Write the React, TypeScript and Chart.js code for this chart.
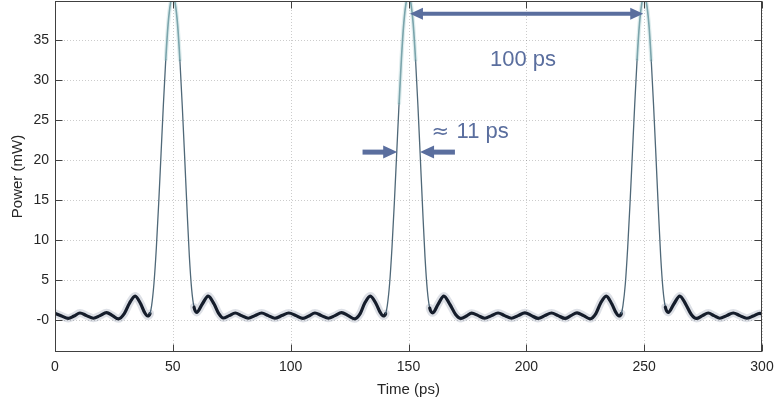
import React, { useEffect, useRef } from "react";
import { Chart, registerables } from "chart.js";

Chart.register(...registerables);

// ---- data ----
const timePs = [
  0, 2.8, 5.6, 8.1, 10.6, 13.4, 16.3, 19.1, 21.9, 24.4, 26.9, 29.4, 31.6, 34.0, 36.4, 38.0, 39.3,
  40.3, 41, 42, 43, 44, 45, 46, 47, 48, 49, 50, 51, 52, 53, 54, 55, 56, 57, 58, 59,
  60.1, 62.5, 65.0, 67.5, 69.5, 71.4, 73.9, 76.5, 79.2, 82.0, 84.8, 87.7, 90.5, 93.3, 96.2, 99.2,
  102.3, 105.2, 107.7, 110.3, 113.1, 116.0, 118.8, 121.6, 124.4, 127.1, 129.5, 131.4, 133.8, 136.3, 138.0, 139.3,
  140.3, 141, 142, 143, 144, 145, 146, 147, 148, 149, 150, 151, 152, 153, 154, 155, 156, 157, 158, 159,
  160.3, 162.6, 165.0, 167.5, 170.0, 172.3, 174.6, 176.8, 179.6, 182.4, 185.2, 188.0, 190.8, 193.7, 196.5, 199.4,
  202.2, 205.0, 207.8, 210.7, 213.5, 216.4, 218.9, 221.5, 224.3, 227.1, 229.5, 231.5, 233.9, 236.3, 238.0, 239.3,
  240.3, 241, 242, 243, 244, 245, 246, 247, 248, 249, 250, 251, 252, 253, 254, 255, 256, 257, 258, 259,
  260.2, 262.6, 265.1, 267.6, 270.0, 272.2, 274.7, 277.2, 279.6, 282.1, 285.0, 287.8, 290.6, 293.5, 296.3, 299.1, 300,
];

const powerMw = [
  0.85, 0.5, 0.2, 0.5, 0.88, 0.55, 0.22, 0.55, 0.92, 0.55, 0.15, 0.8, 2.1, 3.0, 2.0, 0.95, 0.5,
  0.8, 1.8, 4.6, 9.0, 14.6, 20.8, 27.0, 32.6, 37.0, 39.6, 40.6, 39.6, 37.0, 32.5, 26.8, 20.5, 14.0, 8.0, 3.8, 1.6,
  0.95, 2.0, 3.0, 2.0, 0.8, 0.25, 0.55, 0.88, 0.55, 0.22, 0.55, 0.88, 0.55, 0.22, 0.55, 0.88,
  0.55, 0.2, 0.5, 0.88, 0.55, 0.22, 0.55, 0.92, 0.55, 0.15, 0.8, 2.1, 3.0, 2.0, 0.95, 0.5,
  0.8, 1.8, 4.6, 9.1, 14.7, 20.9, 27.1, 32.7, 37.1, 39.7, 40.6, 39.6, 37.0, 32.5, 26.8, 20.4, 13.9, 7.9, 3.7, 1.5,
  0.9, 2.0, 3.0, 2.0, 0.7, 0.2, 0.5, 0.85, 0.55, 0.22, 0.55, 0.88, 0.55, 0.22, 0.55, 0.9,
  0.55, 0.2, 0.55, 0.88, 0.55, 0.2, 0.55, 0.9, 0.55, 0.15, 0.8, 2.1, 3.0, 2.0, 0.95, 0.5,
  0.8, 1.8, 4.5, 9.0, 14.6, 20.8, 27.0, 32.6, 37.0, 39.6, 40.6, 39.6, 37.0, 32.5, 26.8, 20.5, 14.0, 8.0, 3.8, 1.6,
  0.95, 2.0, 3.0, 2.0, 0.7, 0.2, 0.55, 0.88, 0.55, 0.22, 0.55, 0.88, 0.55, 0.22, 0.5, 0.82, 0.8,
];

const xTicks = [0, 50, 100, 150, 200, 250, 300];
const xTickLabels = ["0", "50", "100", "150", "200", "250", "300"];
const yTicks = [0, 5, 10, 15, 20, 25, 30, 35];
const yTickLabels = ["-0", "5", "10", "15", "20", "25", "30", "35"];
const xRange = [0, 300];
const yRange = [-4, 39.9];
const xTitle = "Time (ps)";
const yTitle = "Power (mW)";

// annotation content (data coordinates)
const spacingArrow = { from: 150.6, to: 249.6, at: 38.3 };
const spacingText = { text: "100 ps", x: 198.6, y: 32.5 };
const widthArrows = { leftFrom: 130.5, leftTo: 145.2, rightFrom: 169.7, rightTo: 154.9, at: 21.0 };
const widthSymbol = { text: "\u2248", x: 159.8, y: 23.5 };
const widthText = { text: "11 ps", x: 170.4, y: 23.5 };

const FONT = "'Liberation Sans', Arial, Helvetica, sans-serif";
const TEXT = "#262626";
const ANNOT = "#5a6e9e";

function arrowHead(ctx: CanvasRenderingContext2D, tipX: number, y: number, dir: number, len: number, half: number) {
  ctx.beginPath();
  ctx.moveTo(tipX, y);
  ctx.lineTo(tipX - dir * len, y - half);
  ctx.lineTo(tipX - dir * len, y + half);
  ctx.closePath();
  ctx.fill();
}

const framePlugin = {
  id: "frame",
  beforeDatasetsDraw(chart: any) {
    const { ctx, chartArea, scales } = chart;
    const { left, right, top, bottom } = chartArea;
    const x = scales.x, y = scales.y;
    ctx.save();
    ctx.strokeStyle = "rgba(0,0,0,0.2)";
    ctx.lineWidth = 1;
    ctx.setLineDash([1, 2]);
    xTicks.forEach((v) => {
      const px = Math.round(x.getPixelForValue(v)) + 0.5;
      ctx.beginPath();
      ctx.moveTo(px, top);
      ctx.lineTo(px, bottom);
      ctx.stroke();
    });
    yTicks.forEach((v) => {
      const py = Math.round(y.getPixelForValue(v)) + 0.5;
      ctx.beginPath();
      ctx.moveTo(left, py);
      ctx.lineTo(right, py);
      ctx.stroke();
    });
    ctx.restore();
  },
  afterDatasetsDraw(chart: any) {
    const { ctx, chartArea, scales } = chart;
    const x = scales.x, y = scales.y;
    const L = Math.round(chartArea.left) + 0.5;
    const R = Math.round(chartArea.right) - 0.5;
    const T = Math.round(chartArea.top) + 0.5;
    const B = Math.round(chartArea.bottom) - 0.5;
    ctx.save();
    ctx.strokeStyle = "#404040";
    ctx.lineWidth = 1;
    ctx.strokeRect(L, T, R - L, B - T);
    const tl = 7;
    ctx.beginPath();
    xTicks.forEach((v) => {
      const px = Math.round(x.getPixelForValue(v)) + 0.5;
      ctx.moveTo(px, B);
      ctx.lineTo(px, B - tl);
      ctx.moveTo(px, T);
      ctx.lineTo(px, T + tl);
    });
    yTicks.forEach((v) => {
      const py = Math.round(y.getPixelForValue(v)) + 0.5;
      ctx.moveTo(L, py);
      ctx.lineTo(L + tl, py);
      ctx.moveTo(R, py);
      ctx.lineTo(R - tl, py);
    });
    ctx.stroke();

    // annotations
    ctx.fillStyle = ANNOT;
    ctx.strokeStyle = ANNOT;
    ctx.lineCap = "butt";
    {
      const x0 = x.getPixelForValue(spacingArrow.from);
      const x1 = x.getPixelForValue(spacingArrow.to);
      const py = y.getPixelForValue(spacingArrow.at);
      const len = 13, half = 6;
      ctx.lineWidth = 4;
      ctx.beginPath();
      ctx.moveTo(x0 + len - 1, py);
      ctx.lineTo(x1 - len + 1, py);
      ctx.stroke();
      arrowHead(ctx, x0, py, -1, len, half);
      arrowHead(ctx, x1, py, 1, len, half);
    }
    {
      const py = y.getPixelForValue(widthArrows.at);
      const len = 14, half = 6.5;
      ctx.lineWidth = 5;
      const a0 = x.getPixelForValue(widthArrows.leftFrom);
      const a1 = x.getPixelForValue(widthArrows.leftTo);
      ctx.beginPath();
      ctx.moveTo(a0, py);
      ctx.lineTo(a1 - len + 1, py);
      ctx.stroke();
      arrowHead(ctx, a1, py, 1, len, half);
      const b0 = x.getPixelForValue(widthArrows.rightFrom);
      const b1 = x.getPixelForValue(widthArrows.rightTo);
      ctx.beginPath();
      ctx.moveTo(b0, py);
      ctx.lineTo(b1 + len - 1, py);
      ctx.stroke();
      arrowHead(ctx, b1, py, -1, len, half);
    }
    ctx.textBaseline = "middle";
    ctx.textAlign = "center";
    ctx.font = `22px ${FONT}`;
    ctx.fillText(spacingText.text, x.getPixelForValue(spacingText.x), y.getPixelForValue(spacingText.y));
    ctx.textAlign = "left";
    ctx.fillText(widthText.text, x.getPixelForValue(widthText.x), y.getPixelForValue(widthText.y));
    ctx.font = `21px 'DejaVu Sans', sans-serif`;
    ctx.fillText(widthSymbol.text, x.getPixelForValue(widthSymbol.x), y.getPixelForValue(widthSymbol.y));
    ctx.restore();
  },
};

function segKind(c: any) {
  const a = c.p0.parsed.y, b = c.p1.parsed.y;
  const dx = Math.abs(c.p1.parsed.x - c.p0.parsed.x) || 1;
  const lo = Math.min(a, b);
  if (lo > 27) return "top";
  if (Math.abs(b - a) / dx > 1.2) return "edge";
  return "ripple";
}

export default function App() {
  const canvasRef = useRef<HTMLCanvasElement | null>(null);

  useEffect(() => {
    const canvas = canvasRef.current;
    if (!canvas) return;
    const points = timePs.map((t, i) => ({ x: t, y: powerMw[i] }));
    const chart = new Chart(canvas, {
      type: "line",
      data: {
        datasets: [
          {
            data: points,
            pointRadius: 0,
            cubicInterpolationMode: "monotone",
            borderColor: "rgba(30,45,80,0.16)",
            borderWidth: 8,
            borderJoinStyle: "round",
            borderCapStyle: "round",
            segment: {
              borderColor: (c: any) => {
                const k = segKind(c);
                if (k === "ripple") return "rgba(30,45,85,0.15)";
                if (k === "top") return "rgba(150,195,200,0.3)";
                return "rgba(0,0,0,0)";
              },
              borderWidth: (c: any) => {
                const k = segKind(c);
                if (k === "ripple") return 8;
                if (k === "top") return 4;
                return 1;
              },
            },
          } as any,
          {
            data: points,
            pointRadius: 0,
            cubicInterpolationMode: "monotone",
            borderColor: "#141a24",
            borderWidth: 3,
            borderJoinStyle: "round",
            borderCapStyle: "round",
            segment: {
              borderColor: (c: any) => {
                const k = segKind(c);
                if (k === "ripple") return "#141a24";
                if (k === "top") return "rgba(95,140,150,0.9)";
                return "#4f6878";
              },
              borderWidth: (c: any) => {
                const k = segKind(c);
                if (k === "ripple") return 3.2;
                if (k === "top") return 1.6;
                return 1.3;
              },
            },
          } as any,
        ],
      },
      options: {
        responsive: false,
        animation: false,
        devicePixelRatio: 1,
        layout: { padding: { left: 0, right: 12, top: 1, bottom: 0 } },
        plugins: { legend: { display: false }, tooltip: { enabled: false } },
        scales: {
          x: {
            type: "linear",
            min: xRange[0],
            max: xRange[1],
            grid: { display: false, drawTicks: false },
            border: { display: false },
            afterBuildTicks: (s: any) => {
              s.ticks = xTicks.map((v) => ({ value: v }));
            },
            afterFit: (s: any) => {
              s.height = 53;
              s.paddingLeft = 0;
              s.paddingRight = 0;
              s.paddingTop = 0;
              s.paddingBottom = 0;
            },
            ticks: {
              autoSkip: false,
              maxRotation: 0,
              padding: 7,
              color: TEXT,
              font: { family: FONT, size: 14 },
              callback: (_v: any, i: number) => xTickLabels[i],
            },
            title: {
              display: true,
              text: xTitle,
              color: TEXT,
              font: { family: FONT, size: 15 },
              padding: { top: 0, bottom: 6 },
            },
          },
          y: {
            type: "linear",
            min: yRange[0],
            max: yRange[1],
            grid: { display: false, drawTicks: false },
            border: { display: false },
            afterBuildTicks: (s: any) => {
              s.ticks = yTicks.map((v) => ({ value: v }));
            },
            afterFit: (s: any) => {
              s.width = 55;
              s.paddingLeft = 0;
              s.paddingRight = 0;
              s.paddingTop = 0;
              s.paddingBottom = 0;
            },
            ticks: {
              autoSkip: false,
              padding: 6,
              color: TEXT,
              font: { family: FONT, size: 14 },
              callback: (_v: any, i: number) => yTickLabels[i],
            },
            title: {
              display: true,
              text: yTitle,
              color: TEXT,
              font: { family: FONT, size: 15 },
              padding: { top: 9, bottom: 0 },
            },
          },
        },
      } as any,
      plugins: [framePlugin],
    });
    return () => chart.destroy();
  }, []);

  return (
    <div style={{ position: "fixed", left: 0, top: 0, width: 774, height: 405, background: "#fff" }}>
      <canvas ref={canvasRef} width={774} height={405} style={{ display: "block" }} />
    </div>
  );
}
